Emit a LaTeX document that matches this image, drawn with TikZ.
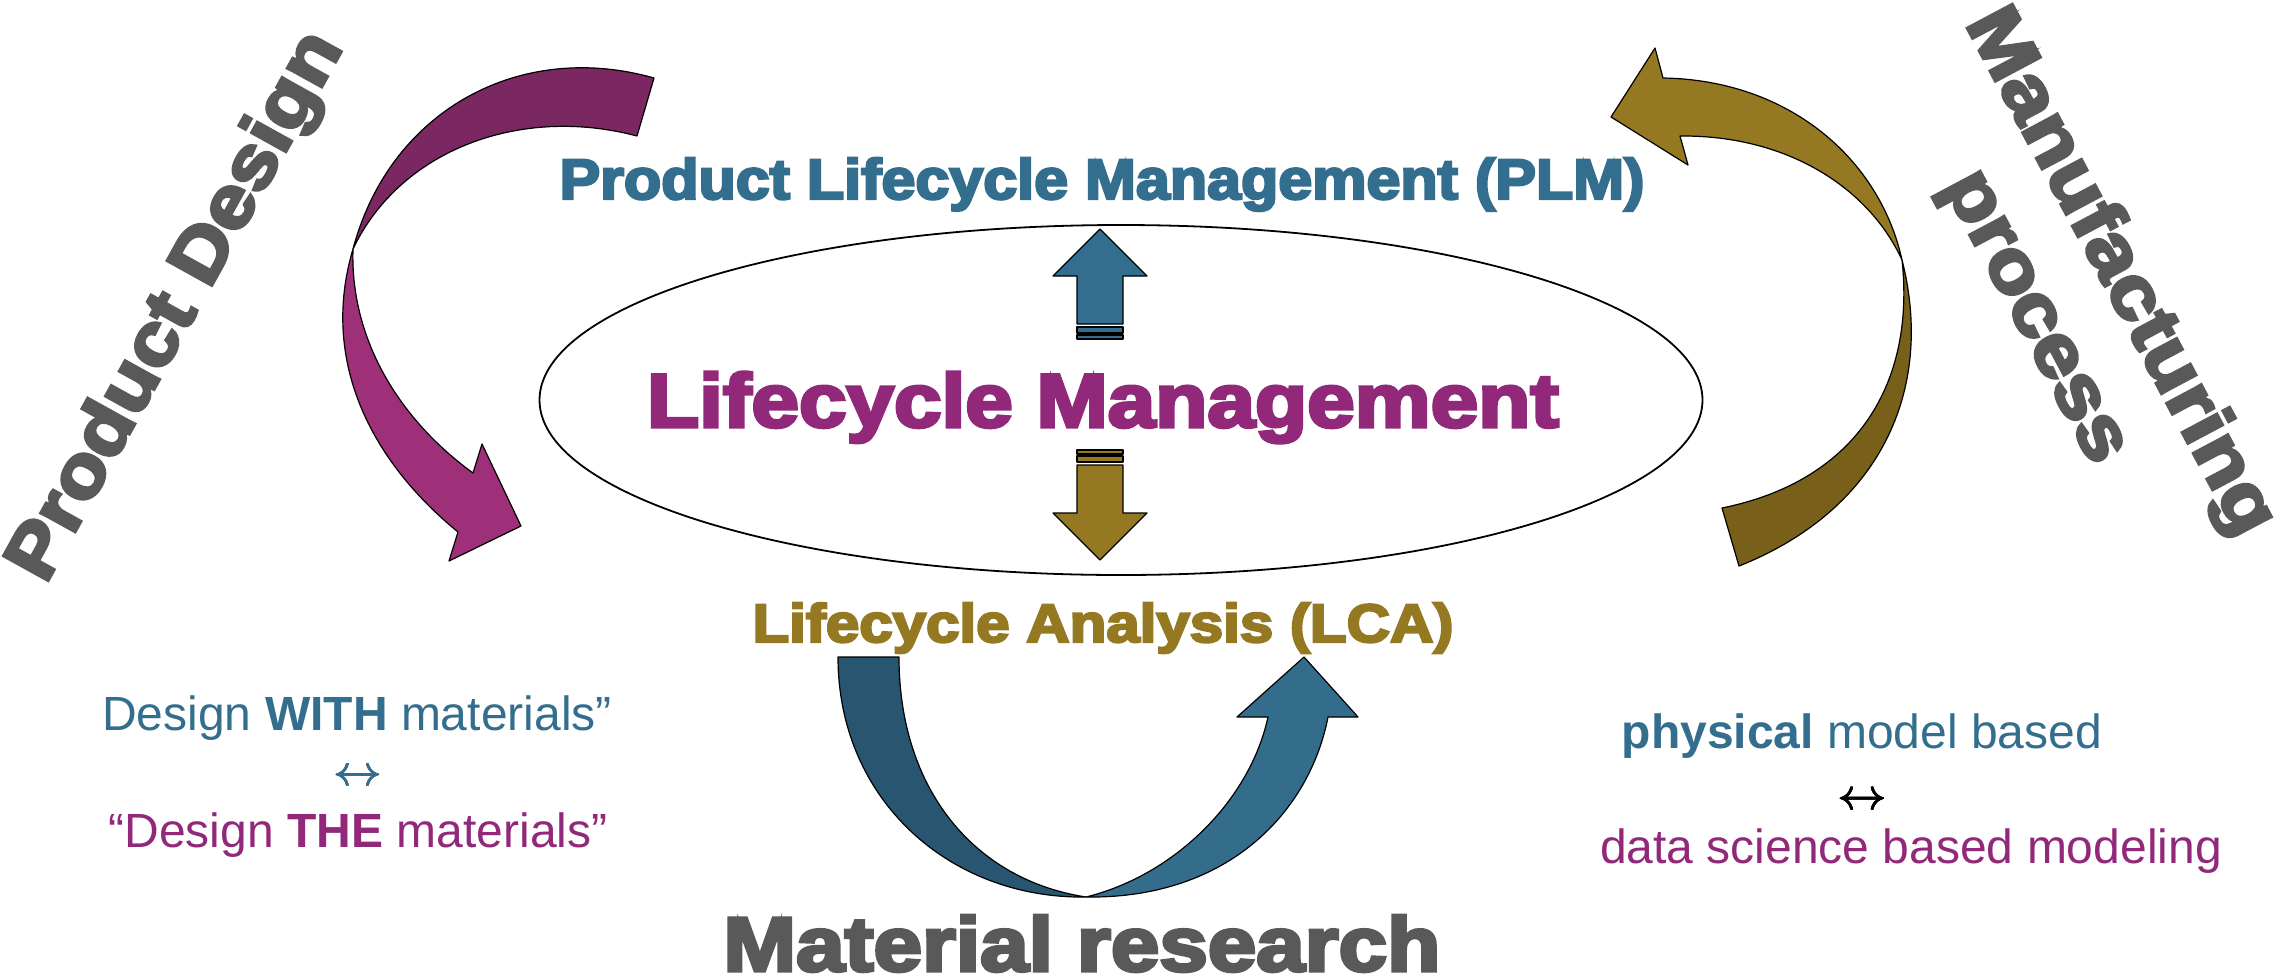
\documentclass[tikz,border=0pt]{standalone}
\usepackage{fontspec}
\usepackage{graphicx}
\usetikzlibrary{shapes.geometric}
\setmainfont{Liberation Sans}
\newfontfamily\heavyfont{Liberation Sans Bold}[FakeBold=4.2]
\definecolor{plmBlue}{HTML}{336E8E}
\definecolor{lcaGold}{HTML}{957822}
\definecolor{lcmPink}{HTML}{92287A}
\definecolor{capGrey}{HTML}{595959}
\definecolor{pinkDark}{HTML}{7B2862}
\definecolor{pinkLight}{HTML}{9E307A}
\definecolor{goldDark}{HTML}{78601B}
\definecolor{blueDark}{HTML}{285670}
\definecolor{blueLight}{HTML}{346C8C}
% stretch a line to a given width, keeping its height
\newcommand{\fitto}[2]{\resizebox{#1}{\height}{#2}}
% double arrow with a heavier stroke (overprinted copies)
\newcommand{\swaparrow}{\ooalign{%
  \boldmath$\leftrightarrow$\cr
  \raise0.15pt\hbox{\boldmath$\leftrightarrow$}\cr
  \lower0.15pt\hbox{\boldmath$\leftrightarrow$}\cr
  \kern0.12pt\boldmath$\leftrightarrow$\cr}}
\tikzset{
  heavy/.style={inner sep=0pt,font=\heavyfont\fontsize{#1}{#1}\selectfont},
  plain/.style={inner sep=0pt,font=\fontsize{48}{58}\selectfont},
  ribbon/.style={draw=black,line width=1.2pt,line join=round},
  pics/blockarrow/.style={code={
    \filldraw[ribbon,fill=#1] (-23,0) -- (-23,-48) -- (-47,-48) -- (0,-95)
      -- (47,-48) -- (23,-48) -- (23,0) -- cycle;
    \filldraw[ribbon,fill=#1] (-23,3) rectangle (23,9);
    \filldraw[ribbon,fill=#1] (-23,11) rectangle (23,15);
  }},
}

\begin{document}
\begin{tikzpicture}[x=1pt,y=-1pt]
  \useasboundingbox (0,0) rectangle (2280,978);
  \fill[white] (0,0) rectangle (2280,978);

  % hub
  \node[ellipse,draw,line width=1.8pt,inner sep=0pt,minimum width=1163pt,minimum height=350pt] (hub) at (1121,400) {};
  \node[heavy=76,text=lcmPink,anchor=base] (lcm) at (1103,427) {\fitto{912pt}{Lifecycle Management}};
  \node[heavy=57,text=plmBlue,anchor=base] (plm) at (1102,199) {\fitto{1085pt}{Product Lifecycle Management (PLM)}};
  \node[heavy=54,text=lcaGold,anchor=base] (lca) at (1103,642) {\fitto{701pt}{Lifecycle Analysis (LCA)}};
  \pic at (1100,324) {blockarrow=plmBlue};
  \pic[rotate=180] at (1100,465) {blockarrow=lcaGold};

  % side captions
  \node[heavy=74,text=capGrey,rotate=61] (design) at (178,307) {\fitto{615pt}{Product Design}};
  \node[heavy=74,text=capGrey,rotate=-62,align=center] (manuf) at (2077,295)
    {\fitto{585pt}{Manufacturing}\\[21pt]\fitto{320pt}{process}};
  \node[heavy=77,text=capGrey,anchor=base] (matres) at (1082,971) {\fitto{717pt}{Material research}};

  % product design swoosh
  \filldraw[ribbon,fill=pinkDark] (654,78) .. controls (520,40) and (390,110) .. (353,249)
    .. controls (400,150) and (520,105) .. (637,136) -- cycle;
  \filldraw[ribbon,fill=pinkLight] (353,249) .. controls (320,360) and (370,460) .. (458,532)
    -- (449,561) -- (521,526) -- (482,444) -- (473,473)
    .. controls (400,420) and (350,340) .. (353,249) -- cycle;

  % manufacturing swoosh
  \filldraw[ribbon,fill=goldDark] (1902,260) .. controls (1935,390) and (1880,510) .. (1739,566)
    -- (1722,508) .. controls (1860,480) and (1915,380) .. (1902,260) -- cycle;
  \filldraw[ribbon,fill=lcaGold] (1902,260) .. controls (1880,160) and (1790,80) .. (1663,78)
    -- (1655,48) -- (1611,117) -- (1688,165) -- (1680,136)
    .. controls (1790,135) and (1870,190) .. (1902,260) -- cycle;

  % material research swoosh
  \filldraw[ribbon,fill=blueDark] (838,657) -- (899,657) .. controls (899,790) and (975,880) .. (1086,897)
    .. controls (950,899) and (838,800) .. (838,657) -- cycle;
  \filldraw[ribbon,fill=blueLight] (1086,897) .. controls (1175,875) and (1250,800) .. (1268,717)
    -- (1237,717) -- (1304,657) -- (1358,717) -- (1328,717)
    .. controls (1310,810) and (1230,899) .. (1086,897) -- cycle;

  % notes
  \node[plain,text=plmBlue,anchor=base] (with) at (357,730) {Design \textbf{WITH} materials”};
  \node[plain,text=plmBlue] (swapL) at (358,777) {\resizebox{49pt}{!}{\swaparrow}};
  \node[plain,text=lcmPink,anchor=base] (the) at (358,847) {“Design \textbf{THE} materials”};
  \node[plain,text=plmBlue,anchor=base] (phys) at (1862,748) {\textbf{physical} model based};
  \node[plain] (swapR) at (1862,801) {\resizebox{50pt}{!}{\swaparrow}};
  \node[plain,text=lcmPink,anchor=base] (dsm) at (1911,863) {data science based modeling};
\end{tikzpicture}
\end{document}
